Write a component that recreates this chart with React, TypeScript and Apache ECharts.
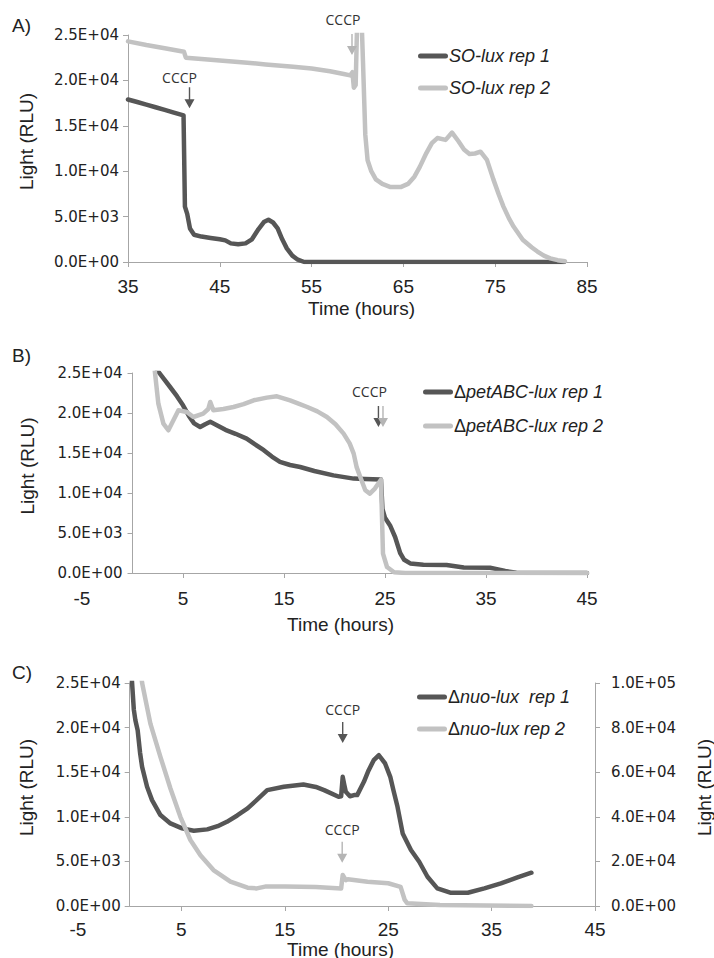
import React, { useEffect, useRef } from "react";
import * as echarts from "echarts";

// ---------- data ----------
const xTicksA = [35, 45, 55, 65, 75, 85];
const xTicksBC = [-5, 5, 15, 25, 35, 45];
const xTickMarksBC = [5, 15, 25, 35, 45];

const soRep1: number[][] = [
  [35, 17900], [36, 17620], [37, 17330], [38, 17040], [39, 16750], [40, 16450], [41.05, 16150],
  [41.2, 6100], [41.45, 5300], [41.75, 3700], [42.2, 3000], [43, 2800], [44, 2650], [45, 2500],
  [45.6, 2380], [46.2, 2050], [47, 1950], [47.8, 2050], [48.5, 2500], [49.2, 3600], [49.8, 4400],
  [50.3, 4650], [50.8, 4350], [51.3, 3700], [51.8, 2500], [52.3, 1500], [52.9, 700], [53.5, 250],
  [54.2, 0], [82.5, 0],
];
const soRep2: number[][] = [
  [35, 24300], [37, 23900], [39, 23550], [41.1, 23150], [41.3, 22500], [43, 22350], [45, 22200],
  [48, 21950], [50, 21750], [53, 21500], [55, 21300], [57, 21000], [58.5, 20700], [59.2, 20550],
  [59.45, 20900], [59.6, 19200], [59.8, 19500], [60, 28000], [60.4, 28000], [60.6, 22000],
  [60.85, 14000], [61.1, 11200], [61.5, 10000], [62, 9100], [62.7, 8600], [63.6, 8250], [64.7, 8250],
  [65.5, 8600], [66.2, 9400], [66.8, 10500], [67.5, 12000], [68.1, 13100], [68.7, 13650],
  [69.6, 13450], [70.3, 14250], [71.0, 13300], [71.6, 12400], [72.2, 11900], [72.8, 11950],
  [73.4, 12150], [74.1, 11250], [74.8, 9100], [75.4, 7400], [75.9, 6100], [76.5, 4800], [77, 3900],
  [78, 2450], [79, 1600], [79.6, 1150], [80.3, 700], [81, 400], [81.8, 200], [82.6, 80],
];
const petRep1: number[][] = [
  [2.2, 25800], [2.66, 25000], [3.2, 24100], [3.72, 23250], [4.4, 22100], [5.0, 20960], [5.6, 19600],
  [6.1, 18700], [6.7, 18250], [7.2, 18600], [7.7, 18900], [8.4, 18450], [9.2, 17900], [10.2, 17400],
  [11.3, 16800], [12.1, 16100], [13, 15350], [13.8, 14550], [14.6, 13900], [15.6, 13500],
  [16.6, 13250], [18, 12750], [19.9, 12200], [21.9, 11800], [23, 11750], [24.6, 11700],
  [24.75, 8000], [25.0, 6900], [25.5, 5950], [26.0, 4500], [26.5, 2500], [26.9, 1650], [27.5, 1200],
  [28.8, 1040], [31.1, 1000], [32.8, 680], [35.4, 650], [36.2, 450], [36.9, 250], [38, 40], [45, 0],
];
const petRep2: number[][] = [
  [2.15, 26000], [2.23, 25000], [2.56, 21170], [3.06, 18670], [3.55, 17840], [4.05, 19090],
  [4.55, 20340], [5.37, 20130], [6.03, 19500], [7.0, 19920], [7.5, 20500], [7.7, 21380], [8.0, 20340],
  [9, 20500], [10, 20750], [11, 21100], [12, 21590], [13.3, 21920], [14.3, 22090], [15.6, 21590],
  [16.5, 21150], [17.3, 20750], [18.3, 20200], [19.25, 19500], [20.1, 18600], [20.9, 17420],
  [21.5, 16200], [21.9, 14920], [22.2, 13200], [22.55, 12000], [23.05, 10340], [23.5, 9920],
  [24.0, 10550], [24.6, 11670], [24.8, 2420], [25.2, 750], [25.9, 100], [27, 0], [45, 0],
];
const nuoRep1: number[][] = [
  [0.15, 26500], [0.23, 25000], [0.4, 22000], [0.55, 20820], [0.77, 19700], [1.0, 17200],
  [1.2, 15600], [1.68, 13360], [2.16, 11870], [2.97, 10190], [3.94, 9260], [5.07, 8700], [6.2, 8430],
  [7.5, 8590], [8.5, 8950], [9.4, 9440], [10.4, 10150], [11.4, 10940], [12.4, 12000], [13.3, 12990],
  [14.9, 13360], [16.8, 13620], [18.0, 13350], [18.8, 12990], [20.2, 12240], [20.45, 12300],
  [20.6, 14480], [20.75, 13600], [20.9, 12800], [21.3, 12300], [21.7, 12430], [22.0, 12430],
  [22.65, 13920], [23.1, 15200], [23.6, 16350], [24.1, 16900], [24.7, 15980], [25.2, 14480],
  [25.5, 13000], [25.9, 11120], [26.4, 8140], [27.2, 6270], [28.0, 4960], [28.8, 3280],
  [29.75, 1980], [31.0, 1490], [32.7, 1490], [34.3, 1980], [35.9, 2540], [37.5, 3210], [38.85, 3730],
];
// secondary (right) axis
const nuoRep2: number[][] = [
  [1.1, 104000], [1.2, 100000], [2.0, 81800], [2.97, 66900], [3.94, 52700], [4.9, 40000],
  [5.87, 29600], [6.84, 22800], [8.1, 16100], [9.74, 10900], [11.4, 8200], [12.3, 7900],
  [13.2, 8800], [15, 8800], [18, 8500], [20.45, 7900], [20.6, 13900], [20.9, 11600], [21.1, 12000],
  [23, 10900], [25, 10200], [26.2, 8600], [26.6, 2700], [26.85, 1200], [30, 400], [38.85, 0],
];

// CCCP arrow tips (data coordinates)
const cccpSoRep1 = [41.7, 16930];
const cccpSoRep2 = [59.4, 22800];
const cccpPetRep1 = [24.35, 18250];
const cccpPetRep2 = [24.8, 18250];
const cccpNuoRep1 = [20.6, 18280];
const cccpNuoRep2 = [20.55, 19400];

const namesA = ["SO-lux rep 1", "SO-lux rep 2"];
const namesB = ["ΔpetABC-lux rep 1", "ΔpetABC-lux rep 2"];
const namesC = ["Δnuo-lux  rep 1", "Δnuo-lux rep 2"];

// ---------- styles ----------
const DARK = "#565656";
const LIGHT = "#c2c2c2";
const AXIS = "#a6a6a6";
const TXT = "#222222";
const SANS = "Liberation Sans";
const ARROW = "path://M4.3,0 L5.7,0 L5.7,12 L10,12 L5,21 L0,12 L4.3,12 Z";
const LEGEND_ICON = "path://M2.5,0 L27.5,0 A2.5,2.5 0 0 1 27.5,5 L2.5,5 A2.5,2.5 0 0 1 2.5,0 Z";

function fmtE(v: number): string {
  if (v === 0) return "0.0E+00";
  const e = Math.floor(Math.log10(v) + 1e-9);
  const m = v / Math.pow(10, e);
  return m.toFixed(1) + "E+" + (e < 10 ? "0" + e : String(e));
}

// x axis that carries labels, ticks and the title
function xLabelAxis(grid: number, min: number, max: number, labels: number[], ticks: number[], margin: number, gap: number, showLine: boolean, namePad: number[]) {
  return {
    type: "value",
    gridIndex: grid,
    min,
    max,
    interval: 10,
    name: "Time (hours)",
    nameLocation: "middle",
    nameGap: gap,
    nameTextStyle: { fontFamily: SANS, fontSize: 19, color: TXT, padding: namePad },
    axisLine: { show: showLine, onZero: false, lineStyle: { color: AXIS, width: 1 } },
    axisTick: { show: true, length: 5, customValues: ticks, lineStyle: { color: AXIS } },
    axisLabel: { customValues: labels, margin, fontFamily: SANS, fontSize: 19, color: TXT },
    splitLine: { show: false },
  };
}

// x axis that only draws the base line (from 0 to 45) and positions the data
function xDataAxis(grid: number) {
  return {
    type: "value",
    gridIndex: grid,
    min: 0,
    max: 45,
    interval: 5,
    axisLine: { show: true, onZero: false, lineStyle: { color: AXIS, width: 1 } },
    axisTick: { show: false },
    axisLabel: { show: false },
    splitLine: { show: false },
  };
}

function yAxisCfg(grid: number, max: number, interval: number, position: string, margin: number, gap: number) {
  return {
    type: "value",
    gridIndex: grid,
    min: 0,
    max,
    interval,
    position,
    name: "Light (RLU)",
    nameLocation: "middle",
    nameGap: gap,
    nameTextStyle: { fontFamily: SANS, fontSize: 19, color: TXT, padding: [0, 0, 0, 14] },
    axisLine: { show: true, onZero: false, lineStyle: { color: AXIS, width: 1 } },
    axisTick: { show: true, length: 5, lineStyle: { color: AXIS } },
    axisLabel: { margin, fontFamily: "DejaVu Sans", fontSize: 15, color: TXT, formatter: fmtE },
    splitLine: { show: false },
  };
}

function yHidden(grid: number) {
  return { type: "value", gridIndex: grid, min: 0, max: 25000, show: false };
}

function cccp(coord: number[], color: string, withLabel: boolean, dx: number, dist: number) {
  return {
    symbol: ARROW,
    symbolSize: [10, 21],
    symbolOffset: [0, "-50%"],
    silent: true,
    itemStyle: { color },
    label: {
      show: withLabel,
      formatter: "CCCP",
      position: "top",
      distance: dist,
      offset: [dx, 0],
      fontFamily: "Open Sans",
      fontSize: 14,
      color: "#333333",
    },
    data: [{ coord }],
  };
}

function lineSeries(name: string, data: number[][], color: string, xi: number, yi: number, extra: any) {
  return Object.assign(
    {
      type: "line",
      name,
      data,
      xAxisIndex: xi,
      yAxisIndex: yi,
      symbol: "none",
      showSymbol: false,
      clip: true,
      lineStyle: { color, width: 4.5, join: "round", cap: "round" },
      itemStyle: { color },
      emphasis: { disabled: true },
    },
    extra
  );
}

function legendCfg(names: string[], left: number, top: number, gap: number) {
  return {
    data: names,
    orient: "vertical",
    left,
    top,
    padding: 0,
    icon: LEGEND_ICON,
    itemWidth: 30,
    itemHeight: 5,
    itemGap: gap,
    selectedMode: false,
    formatter: (n: string) =>
      n.charAt(0) === "Δ" ? "{d|Δ}{i|" + n.slice(1) + "}" : "{i|" + n + "}",
    textStyle: {
      padding: [0, 0, 0, -4],
      rich: {
        d: { fontFamily: SANS, fontSize: 18, fontStyle: "normal", color: TXT, lineHeight: 18 },
        i: { fontFamily: SANS, fontSize: 18, fontStyle: "italic", color: TXT, lineHeight: 18 },
      },
    },
  };
}

function panelLetter(text: string, x: number, y: number) {
  return {
    type: "text",
    x,
    y,
    silent: true,
    style: { text, fontFamily: SANS, fontSize: 19, fill: TXT, verticalAlign: "middle" },
  };
}

const G = { containLabel: false, outerBoundsMode: "none" };

export default function App() {
  const ref = useRef<HTMLDivElement>(null);
  useEffect(() => {
    if (!ref.current) return;
    const chart = echarts.init(ref.current, null, { renderer: "svg" });
    chart.setOption({
      animation: false,
      backgroundColor: "#ffffff",
      grid: [
        { ...G, left: 128, top: 35, width: 459, height: 227 },
        { ...G, left: 82, top: 373, width: 505, height: 200 },
        { ...G, left: 132.5, top: 373, width: 454.5, height: 200 },
        { ...G, left: 78, top: 683, width: 517, height: 223 },
        { ...G, left: 129.7, top: 683, width: 465.3, height: 223 },
      ],
      xAxis: [
        xLabelAxis(0, 35, 85, xTicksA, xTicksA, 15, 37, true, [0, 0, 0, 8]),
        xLabelAxis(1, -5, 45, xTicksBC, xTickMarksBC, 16, 42, false, [0, 0, 0, 12]),
        xDataAxis(2),
        xLabelAxis(3, -5, 45, xTicksBC, xTickMarksBC, 14, 32, false, [0, 0, 0, 8]),
        xDataAxis(4),
      ],
      yAxis: [
        yAxisCfg(0, 25000, 5000, "left", 9, 92),
        yHidden(1),
        yAxisCfg(2, 25000, 5000, "left", 10, 96),
        yHidden(3),
        yAxisCfg(4, 25000, 5000, "left", 9, 94),
        yAxisCfg(4, 100000, 20000, "right", 16, 100),
      ],
      legend: [
        legendCfg(namesA, 418, 47, 14),
        legendCfg(namesB, 423, 383, 16),
        legendCfg(namesC, 417, 688, 14),
      ],
      graphic: [panelLetter("A)", 12, 25), panelLetter("B)", 12, 355), panelLetter("C)", 12, 672)],
      series: [
        lineSeries(namesA[0], soRep1, DARK, 0, 0, { markPoint: cccp(cccpSoRep1, DARK, true, -10, 3) }),
        lineSeries(namesA[1], soRep2, LIGHT, 0, 0, { markPoint: cccp(cccpSoRep2, "#b5b5b5", true, -9, 7) }),
        lineSeries(namesB[0], petRep1, DARK, 2, 2, { markPoint: cccp(cccpPetRep1, DARK, true, -9, 8) }),
        lineSeries(namesB[1], petRep2, LIGHT, 2, 2, { markPoint: cccp(cccpPetRep2, "#b5b5b5", false, 0, 0) }),
        lineSeries(namesC[0], nuoRep1, DARK, 4, 4, { markPoint: cccp(cccpNuoRep1, DARK, true, 0, 5) }),
        lineSeries(namesC[1], nuoRep2, LIGHT, 4, 5, { markPoint: cccp(cccpNuoRep2, "#b5b5b5", true, 0, 5) }),
      ],
    });
    return () => chart.dispose();
  }, []);
  return (
    <div
      ref={ref}
      style={{ position: "absolute", left: 0, top: 0, width: 714, height: 958 }}
    />
  );
}
